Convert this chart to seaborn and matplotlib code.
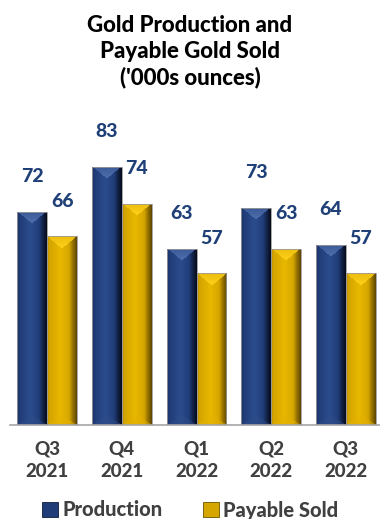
import numpy as np
import pandas as pd
import matplotlib
matplotlib.use("Agg")
import matplotlib.pyplot as plt
from matplotlib.patches import Patch
import matplotlib.colors as mcolors
import seaborn as sns

# Quarterly figures, thousands of ounces
quarters = ["Q3\n2021", "Q4\n2021", "Q1\n2022", "Q2\n2022", "Q3\n2022"]
production = [72, 83, 63, 73, 64]
payable_sold = [66, 74, 57, 63, 57]
series_names = ["Production", "Payable Sold"]

NAVY = "#213D78"
GOLD = "#D6A600"
LABEL_BLUE = "#1F3F77"
TEXT_GRAY = "#404040"
WEIGHT = "black"

# face colours for the bevelled bars: body, highlight, shadow, top facet, foot facet
BEVEL = {
    NAVY: dict(body="#203C77", hi="#2B4C8C", shadow="#060B18", top="#4F6FAE", foot="#2E4C88"),
    GOLD: dict(body="#D4A400", hi="#E8B800", shadow="#5A4300", top="#FFD21A", foot="#E4B200"),
}

df = pd.DataFrame({
    "quarter": quarters * 2,
    "series": [series_names[0]] * len(quarters) + [series_names[1]] * len(quarters),
    "value": production + payable_sold,
})

sns.set_theme(style="white")
plt.rcParams["font.family"] = ["Lato", "DejaVu Sans"]

fig = plt.figure(figsize=(3.8, 5.19), dpi=100)
ax = fig.add_axes([10 / 380, 94 / 519, 373 / 380, 328 / 519])

sns.barplot(data=df, x="quarter", y="value", hue="series",
            palette=[NAVY, GOLD], order=quarters, hue_order=series_names,
            width=0.8, legend=False, ax=ax,
            edgecolor="#9A9A9A", linewidth=0.6)

YMIN, YMAX = 20, 100
ax.set_xlim(-0.5, len(quarters) - 0.5)
ax.set_ylim(YMIN, YMAX)


def rgb(c):
    return np.array(mcolors.to_rgb(c))


def bevel(key, wpx, hpx):
    """Shaded bar face: lit centre, dark right edge, bevelled top and foot."""
    pal = BEVEL[key]
    wpx, hpx = max(int(round(wpx)), 2), max(int(round(hpx)), 2)
    xs = (np.arange(wpx) + 0.5) / wpx
    ys = np.arange(hpx) + 0.5
    X, Y = np.meshgrid(xs, ys)
    body, hi, sh = rgb(pal["body"]), rgb(pal["hi"]), rgb(pal["shadow"])
    # horizontal profile: 0 = body, +1 = highlight, -1 = shadow
    prof = np.interp(xs, [0, 0.08, 0.45, 0.65, 0.85, 1.0],
                     [-0.25, 0.0, 1.0, 0.4, -0.45, -1.0])
    P = np.tile(prof, (hpx, 1))[..., None]
    img = np.where(P >= 0, body + (hi - body) * P, body + (sh - body) * (-P))
    edge = np.abs(X - 0.5) * 2
    top_depth = wpx * 0.42
    top = Y < top_depth * (1 - edge)
    t = np.clip(Y / top_depth, 0, 1)[..., None]
    top_col = rgb(pal["body"]) * 0.45 + rgb(pal["top"]) * 0.55
    top_img = top_col + (rgb(pal["top"]) - top_col) * t
    img = np.where(top[..., None], top_img, img)
    foot_depth = wpx * 0.32
    foot = (hpx - Y) < foot_depth * (1 - edge)
    img = np.where(foot[..., None], img * 0.5 + rgb(pal["foot"]) * 0.5, img)
    return np.clip(img, 0, 1)


fig.canvas.draw()
to_px = ax.transData
keys = [NAVY] * len(quarters) + [GOLD] * len(quarters)
for patch, val, key in zip(ax.patches, production + payable_sold, keys):
    x0 = patch.get_x()
    w = patch.get_width()
    (px0, py0) = to_px.transform((x0, YMIN))
    (px1, py1) = to_px.transform((x0 + w, val))
    img = bevel(key, px1 - px0, py1 - py0)
    im = ax.imshow(img, extent=(x0, x0 + w, YMIN, val), aspect="auto",
                   interpolation="bilinear", zorder=2)
    im.set_clip_path(patch)
    patch.set_facecolor("none")
    patch.set_zorder(3)
    ax.text(x0 + w / 2, val + 8.5, f"{val}", ha="center", va="center",
            fontsize=14, fontweight=WEIGHT, color=LABEL_BLUE, zorder=4)

ax.set_xlim(-0.5, len(quarters) - 0.5)
ax.set_ylim(YMIN, YMAX)
ax.set_xlabel("")
ax.set_ylabel("")
ax.set_yticks([])
for side in ["left", "right", "top"]:
    ax.spines[side].set_visible(False)
ax.spines["bottom"].set_color("#A6A6A6")
ax.spines["bottom"].set_linewidth(1.2)

ax.set_xticks(range(len(quarters)))
ax.set_xticklabels(quarters, fontsize=13.5, fontweight=WEIGHT, color=TEXT_GRAY,
                   linespacing=1.4)
ax.tick_params(axis="x", which="major", length=0, pad=11)
ax.set_xticks(np.arange(-0.5, len(quarters), 1.0), minor=True)
ax.tick_params(axis="x", which="minor", length=5, width=1.2, color="#A6A6A6",
               direction="out")

fig.text(0.5, 1 - 15 / 519, "Gold Production and\nPayable Gold Sold\n('000s ounces)",
         ha="center", va="top", fontsize=16, fontweight=WEIGHT, color="black",
         linespacing=1.27)

handles = [Patch(facecolor=NAVY, edgecolor="#0E1C38", linewidth=0.6),
           Patch(facecolor=GOLD, edgecolor="#6B5300", linewidth=0.6)]
leg = fig.legend(handles, series_names, loc="center", bbox_to_anchor=(0.5, 9 / 519),
                 ncol=2, frameon=False, fontsize=14.5, handlelength=0.8,
                 handleheight=0.8, handletextpad=0.2, columnspacing=2.0,
                 borderaxespad=0, borderpad=0)
for t in leg.get_texts():
    t.set_color(TEXT_GRAY)
    t.set_fontweight(WEIGHT)

fig.savefig("out.png", dpi=100)
